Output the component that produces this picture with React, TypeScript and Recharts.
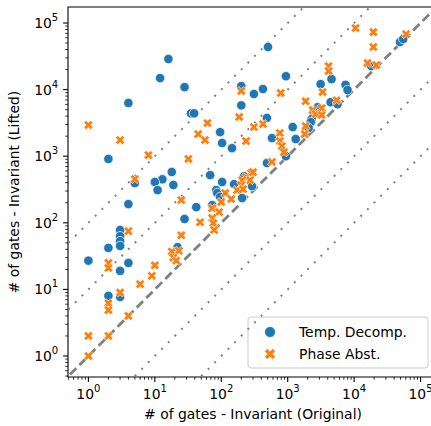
import { ScatterChart, Scatter, XAxis, YAxis, ReferenceLine, ReferenceArea, Customized } from "recharts"

// [original gates, lifted gates]
const tempDecomp: [number, number][] = [
  [16, 28800], [12, 14900], [28, 10900], [4, 6300], [35, 4400], [39, 4400],
  [96, 2300], [103, 1580], [145, 1320], [2, 910], [68, 520], [18, 580],
  [13, 450], [10, 410], [19, 370], [11, 310], [5, 395], [200, 11300],
  [200, 5800], [84, 310], [87, 280], [96, 245], [103, 410], [156, 380],
  [206, 236], [505, 43700], [940, 15900], [3130, 12100], [4570, 14400],
  [7420, 11800], [7960, 9860], [310, 8600], [424, 10200], [4420, 6470],
  [5630, 6040], [487, 3750], [2830, 5450], [2460, 4600], [2290, 3620],
  [2220, 3250], [2070, 2650], [1190, 2740], [580, 1870], [1320, 1810],
  [487, 790], [940, 1000], [290, 355], [49000, 51800], [54800, 57500],
  [18100, 22600], [73, 184], [42, 172], [28, 114], [4, 191], [3, 78],
  [3, 63], [3, 53], [3, 45], [2, 42], [1, 27], [4, 25], [3, 19], [2, 8],
  [3, 7.7], [22, 43], [220, 500],
]

const phaseAbst: [number, number][] = [
  [1, 2940], [3, 1750], [8, 1040], [5, 453], [32, 910], [62, 3150],
  [45, 2150], [57, 1750], [200, 9520], [186, 3880], [236, 1690], [115, 280],
  [141, 228], [25, 220], [10500, 84000], [19500, 73000], [19500, 43700],
  [15900, 25000], [21600, 23400], [60600, 68000], [4120, 22600], [4120, 19000],
  [785, 8900], [3350, 9200], [1860, 6690], [5440, 6930], [2380, 4920],
  [2640, 4290], [3240, 5270], [3240, 4150], [310, 2740], [424, 3040],
  [1860, 2840], [1800, 2150], [760, 2230], [760, 1690], [815, 1420],
  [875, 1150], [580, 820], [280, 560], [236, 485], [300, 576], [271, 437],
  [206, 437], [199, 368], [173, 310], [213, 320], [100, 205], [73, 166],
  [93, 145], [48, 102], [73, 118], [76, 99], [78, 78], [25, 65], [18, 37],
  [23, 38], [19, 30], [21, 27], [10, 23], [9, 16], [6, 12], [4, 75],
  [2, 25], [2, 21], [3, 9], [2, 6.2], [2, 4.9], [4, 4], [1, 2], [2, 2], [1, 1],
]

const majorTicks = [1, 10, 100, 1000, 10000, 100000]
const tickExponents = ["0", "1", "2", "3", "4", "5"]
const minorFactors = [2, 3, 4, 5, 6, 7, 8, 9]
const dottedRatios = [100, 10, 0.1, 0.01]
const seriesNames = ["Temp. Decomp.", "Phase Abst."]

const X_DOMAIN: [number, number] = [0.493, 183000]
const Y_DOMAIN: [number, number] = [0.484, 174000]

const BLUE = "#1f77b4"
const ORANGE = "#ff7f0e"
const FONT = "DejaVu Sans"

const makeTicks = (dom: [number, number]) => {
  const all = [0.1, ...majorTicks].flatMap((d) => [d, ...minorFactors.map((m) => m * d)])
  return all.filter((v) => v >= dom[0] && v <= dom[1])
}
const xTicks = makeTicks(X_DOMAIN)
const yTicks = makeTicks(Y_DOMAIN)

const xPts = [[-1, -2], [0, -1], [1, -2], [2, -1], [1, 0], [2, 1], [1, 2], [0, 1], [-1, 2], [-2, 1], [-1, 0], [-2, -1]]
const xPath = (cx: number, cy: number, u: number) =>
  "M" + xPts.map(([a, b]) => `${cx + a * u},${cy + b * u}`).join("L") + "Z"

const toData = (pts: [number, number][]) => pts.map(([x, y]) => ({ x, y }))

function XTick({ x, y, payload }: any) {
  const i = majorTicks.indexOf(payload.value)
  if (i < 0) return <line x1={x} x2={x} y1={y} y2={y + 2.8} stroke="#000" strokeWidth={0.8} />
  return (
    <g>
      <line x1={x} x2={x} y1={y} y2={y + 4.9} stroke="#000" strokeWidth={1.1} />
      <text x={x} y={y + 22} textAnchor="middle" fontSize={13.9} fontFamily={FONT} fill="#000">
        10<tspan dy={-7} fontSize={10}>{tickExponents[i]}</tspan>
      </text>
    </g>
  )
}

function YTick({ x, y, payload }: any) {
  const i = majorTicks.indexOf(payload.value)
  if (i < 0) return <line x1={x - 2.8} x2={x} y1={y} y2={y} stroke="#000" strokeWidth={0.8} />
  return (
    <g>
      <line x1={x - 4.9} x2={x} y1={y} y2={y} stroke="#000" strokeWidth={1.1} />
      <text x={x - 9.8} y={y + 5} textAnchor="end" fontSize={13.9} fontFamily={FONT} fill="#000">
        10<tspan dy={-7} fontSize={10}>{tickExponents[i]}</tspan>
      </text>
    </g>
  )
}

const Circle = (p: any) => <circle cx={p.cx} cy={p.cy} r={4.7} fill={BLUE} stroke="#fff" strokeWidth={0.7} />
const Cross = (p: any) => <path d={xPath(p.cx, p.cy, 2.3)} fill={ORANGE} stroke="#fff" strokeWidth={0.6} />

function Decorations() {
  return (
    <g fontFamily={FONT} fontSize={13.9} fill="#000">
      <text x={253} y={419} textAnchor="middle">
        # of gates - Invariant (Original)
      </text>
      <text x={19} y={192} textAnchor="middle" transform="rotate(-90, 19, 192)">
        # of gates - Invariant (Lifted)
      </text>
      <rect x={248} y={317} width={180} height={51} rx={3} fill="#fff" fillOpacity={0.8} stroke="#cccccc" strokeWidth={1} />
      <circle cx={270} cy={332} r={5.5} fill={BLUE} stroke="#fff" strokeWidth={0.8} />
      <text x={299} y={337}>{seriesNames[0]}</text>
      <path d={xPath(270, 354, 2.8)} fill={ORANGE} stroke="#fff" strokeWidth={0.8} />
      <text x={299} y={358.5}>{seriesNames[1]}</text>
    </g>
  )
}

export default function App() {
  return (
    <div style={{ position: "fixed", left: 0, top: 0, width: 431, height: 426, overflow: "hidden", background: "#fff" }}>
      <ScatterChart width={440} height={426} margin={{ top: 7, right: 2, bottom: 0, left: 0 }}>
        <XAxis
          type="number"
          dataKey="x"
          scale="log"
          domain={X_DOMAIN}
          allowDataOverflow
          ticks={xTicks}
          interval={0}
          tickSize={0}
          tickMargin={0}
          tickLine={false}
          axisLine={false}
          tick={<XTick />}
          height={49}
        />
        <YAxis
          type="number"
          dataKey="y"
          scale="log"
          domain={Y_DOMAIN}
          allowDataOverflow
          ticks={yTicks}
          interval={0}
          tickSize={0}
          tickMargin={0}
          tickLine={false}
          axisLine={false}
          tick={<YTick />}
          width={68}
        />
        {dottedRatios.map((r) => (
          <ReferenceLine
            key={r}
            segment={[{ x: 0.01, y: 0.01 * r }, { x: 1e7, y: 1e7 * r }]}
            ifOverflow="hidden"
            stroke="#808080"
            strokeWidth={2}
            strokeDasharray="2 7.4"
          />
        ))}
        <ReferenceLine
          segment={[{ x: 0.01, y: 0.01 }, { x: 1e7, y: 1e7 }]}
          ifOverflow="hidden"
          stroke="#808080"
          strokeWidth={2.8}
          strokeDasharray="9 4.5"
        />
        <Scatter data={toData(tempDecomp)} fill={BLUE} shape={Circle} isAnimationActive={false} />
        <Scatter data={toData(phaseAbst)} fill={ORANGE} shape={Cross} isAnimationActive={false} />
        <ReferenceArea
          x1={X_DOMAIN[0]}
          x2={X_DOMAIN[1]}
          y1={Y_DOMAIN[0]}
          y2={Y_DOMAIN[1]}
          ifOverflow="visible"
          fill="none"
          stroke="#000"
          strokeWidth={1.1}
        />
        <Customized component={<Decorations />} />
      </ScatterChart>
    </div>
  )
}
